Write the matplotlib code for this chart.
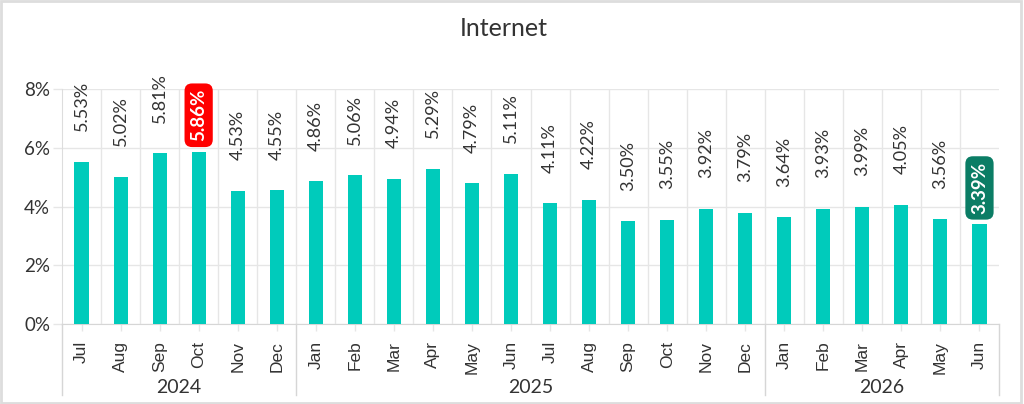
import matplotlib.pyplot as plt
from matplotlib.patches import Rectangle
import numpy as np

# 데이터
months = ['Jul', 'Aug', 'Sep', 'Oct', 'Nov', 'Dec',
          'Jan', 'Feb', 'Mar', 'Apr', 'May', 'Jun', 'Jul', 'Aug', 'Sep', 'Oct', 'Nov', 'Dec',
          'Jan', 'Feb', 'Mar', 'Apr', 'May', 'Jun']
values = [5.53, 5.02, 5.81, 5.86, 4.53, 4.55,
          4.86, 5.06, 4.94, 5.29, 4.79, 5.11, 4.11, 4.22, 3.50, 3.55, 3.92, 3.79,
          3.64, 3.93, 3.99, 4.05, 3.56, 3.39]
years = ['2024', '2025', '2026']
year_counts = [6, 12, 6]
highlight = {3: '#FF0000', 23: '#0B7D65'}   # 최고값, 마지막 값

plt.rcParams['font.family'] = ['Lato', 'DejaVu Sans']
bar_color = '#00CBBB'
grid_color = '#E6E6E6'
text_color = '#333333'

fig = plt.figure(figsize=(10.24, 4.04), dpi=100)
ax = fig.add_axes([62 / 1024, 1 - 324 / 404, 937 / 1024, 235 / 404])

x = np.arange(len(values))
ax.bar(x, values, width=0.36, color=bar_color, zorder=3)

# 값 라벨
for i, v in enumerate(values):
    if i in highlight:
        ax.annotate(f'{v:.2f}%', (i, v), xytext=(0, 7.5), textcoords='offset points',
                    rotation=90, ha='center', va='bottom', fontsize=13.5,
                    fontweight='bold', color='white', annotation_clip=False,
                    bbox=dict(boxstyle='round,pad=0.3,rounding_size=0.4',
                              fc=highlight[i], ec='none'))
    else:
        ax.annotate(f'{v:.2f}%', (i, v), xytext=(0, 22), textcoords='offset points',
                    rotation=90, ha='center', va='bottom', fontsize=13,
                    color=text_color, annotation_clip=False)

ax.set_xlim(-0.5, len(values) - 0.5)
ax.set_ylim(0, 8)
ax.set_yticks([0, 2, 4, 6, 8])
ax.set_yticklabels([f'{t}%' for t in [0, 2, 4, 6, 8]], fontsize=13.5, color=text_color)
ax.tick_params(axis='y', length=6.5, width=1, color=grid_color, pad=2)

ax.set_xticks(x)
ax.set_xticklabels(months, rotation=90, fontsize=12.5, color=text_color,
                   family='Liberation Sans', va='top')
ax.tick_params(axis='x', which='major', length=5, width=1, color=grid_color, pad=7)
ax.set_xticks(x[:-1] + 0.5, minor=True)
ax.tick_params(axis='x', which='minor', length=0)

ax.grid(axis='y', color=grid_color, linewidth=1, zorder=0)
ax.grid(axis='x', which='minor', color=grid_color, linewidth=1, zorder=0)

for s in ['top', 'right']:
    ax.spines[s].set_visible(False)
ax.spines['left'].set_color('#DDDDDD')
ax.spines['bottom'].set_color('#D6D6D6')

# 연도 구분선과 라벨
trans = ax.get_xaxis_transform()
start = -0.5
ax.plot([start, start], [0, -0.302], color='#D6D6D6', lw=1, transform=trans, clip_on=False)
for y, n in zip(years, year_counts):
    end = start + n
    ax.plot([end, end], [0, -0.302], color='#D6D6D6', lw=1, transform=trans, clip_on=False)
    ax.text((start + end) / 2, -0.272, y, transform=trans, ha='center', va='center',
            fontsize=14, color=text_color)
    start = end

fig.text(504 / 1024, 1 - 28 / 404, 'Internet', ha='center', va='center',
         fontsize=18, color=text_color)

# 테두리
fig.patches.append(Rectangle((0.001, 0.003), 0.996, 0.994, transform=fig.transFigure,
                             fill=False, ec='#DDDDDD', lw=2))

fig.savefig('out.png', dpi=100)
